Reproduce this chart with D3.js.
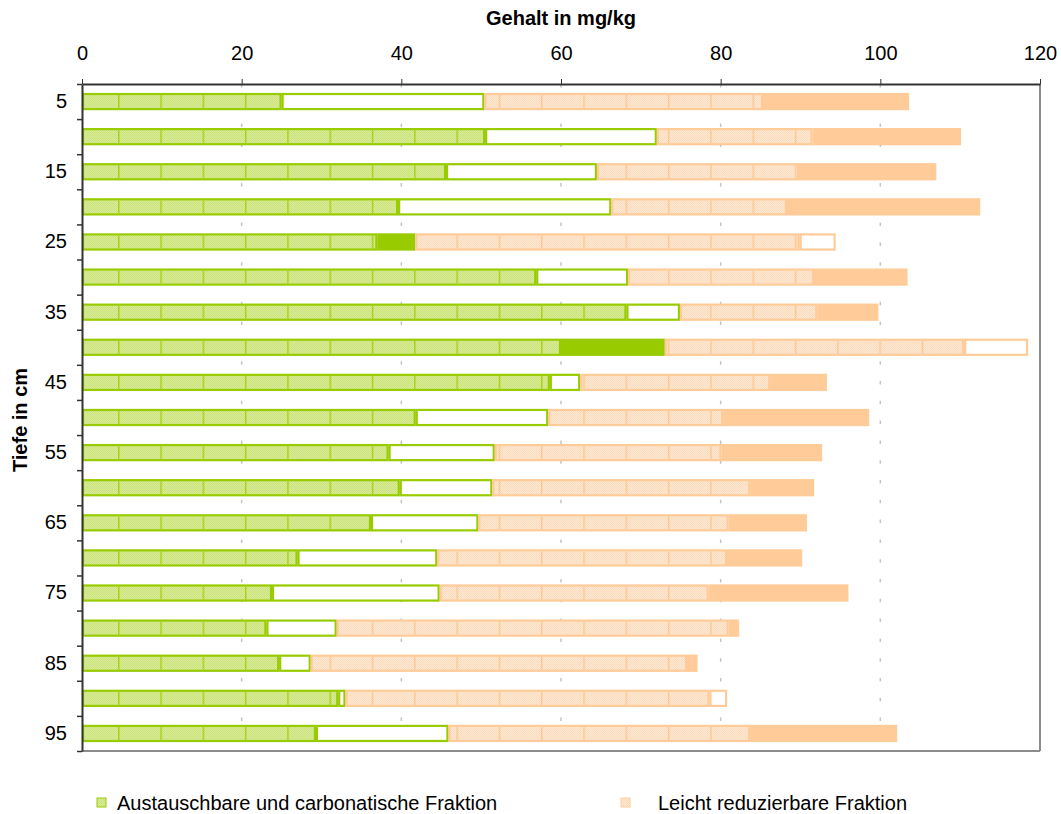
<!DOCTYPE html>
<html>
<head>
<meta charset="utf-8">
<script src="https://cdn.jsdelivr.net/npm/d3@7"></script>
<style>
  body { margin: 0; background: #fff; }
  svg { font-family: "Liberation Sans", Arial, sans-serif; }
</style>
</head>
<body>
<script>
// Tiefe (cm) und Fraktionen (mg/kg), Werte als Abschnittslängen
var depths = [5, 10, 15, 20, 25, 30, 35, 40, 45, 50, 55, 60, 65, 70, 75, 80, 85, 90, 95];
var austausch   = [25.0, 50.5, 45.6, 39.6, 37.0, 56.9, 68.2, 60.0, 58.6, 41.8, 38.4, 39.8, 36.2, 27.0, 23.8, 23.1, 24.7, 32.1, 29.3];
var greenOpen   = [25.4, 21.5, 18.9, 26.7, 0, 11.5, 6.7, 0, 3.8, 16.6, 13.3, 11.6, 13.45, 17.5, 21.0, 8.8, 3.95, 0.9, 16.6];
var greenSolid  = [0, 0, 0, 0, 4.75, 0, 0, 13.0, 0, 0, 0, 0, 0, 0, 0, 0, 0, 0, 0];
var leicht      = [34.9, 19.5, 25.3, 22.0, 48.15, 23.3, 17.2, 37.5, 23.8, 21.9, 28.4, 32.3, 31.35, 36.3, 33.7, 49.1, 47.15, 45.6, 37.8];
var orangeSolid = [18.3, 18.6, 17.2, 24.2, 0, 11.7, 7.65, 0, 7.1, 18.3, 12.6, 8.0, 9.8, 9.4, 17.5, 1.3, 1.3, 0, 18.4];
var orangeOpen  = [0, 0, 0, 0, 4.5, 0, 0, 8.0, 0, 0, 0, 0, 0, 0, 0, 0, 0, 2.2, 0];
var xTicks = [0, 20, 40, 60, 80, 100, 120];
var legendItems = ["Austauschbare und carbonatische Fraktion", "Leicht reduzierbare Fraktion"];

var width = 1061, height = 814;
var margin = ({ top: 84, right: 21, bottom: 63, left: 82 });

var keys = ["austausch", "greenOpen", "greenSolid", "leicht", "orangeSolid", "orangeOpen"];
var rows = depths.map((d, i) => ({
    depth: d,
    austausch: austausch[i], greenOpen: greenOpen[i], greenSolid: greenSolid[i],
    leicht: leicht[i], orangeSolid: orangeSolid[i], orangeOpen: orangeOpen[i]
}));

var style = {
    austausch:   { fill: "url(#hatchGreen)", stroke: "#99cc00", lines: "url(#linesGreen)" },
    greenOpen:   { fill: "#ffffff", stroke: "#99cc00" },
    greenSolid:  { fill: "#99cc00", stroke: "#99cc00" },
    leicht:      { fill: "url(#hatchOrange)", stroke: "#ffcc99", lines: "url(#linesOrange)" },
    orangeSolid: { fill: "#ffcc99", stroke: "#ffcc99" },
    orangeOpen:  { fill: "#ffffff", stroke: "#ffcc99" }
};

var svg = d3.select("body").append("svg")
    .attr("width", width)
    .attr("height", height);

var defs = svg.append("defs");
function checker(id, base, dot) {
    var p = defs.append("pattern").attr("id", id)
        .attr("patternUnits", "userSpaceOnUse").attr("width", 2).attr("height", 2);
    p.append("rect").attr("width", 2).attr("height", 2).attr("fill", base);
    p.append("rect").attr("width", 1).attr("height", 1).attr("fill", dot);
    p.append("rect").attr("x", 1).attr("y", 1).attr("width", 1).attr("height", 1).attr("fill", dot);
}
checker("hatchGreen", "#d8ec95", "#cbe27e");
checker("hatchOrange", "#fee8d2", "#fcdcbf");
function vlines(id, color) {
    var p = defs.append("pattern").attr("id", id)
        .attr("patternUnits", "userSpaceOnUse")
        .attr("x", 118).attr("width", 42.3).attr("height", 10);
    p.append("rect").attr("x", 0).attr("width", 1.5).attr("height", 10).attr("fill", color);
}
vlines("linesGreen", "#a6d21a");
vlines("linesOrange", "#fcc894");

var x = d3.scaleLinear()
    .domain([0, 120])
    .range([margin.left, width - margin.right]);

var yRow = d3.scaleBand()
    .domain(depths)
    .range([margin.top, height - margin.bottom]);

var yBar = d3.scaleBand()
    .domain(depths)
    .range([margin.top, height - margin.bottom])
    .paddingInner(0.57)
    .paddingOuter(0.285);

var yEdge = d3.scaleLinear()
    .domain([0, depths.length])
    .range([margin.top, height - margin.bottom]);

// gridlines
svg.append("g")
    .selectAll("line")
    .data(xTicks.slice(1, -1))
    .join("line")
    .attr("x1", d => x(d)).attr("x2", d => x(d))
    .attr("y1", margin.top).attr("y2", height - margin.bottom)
    .attr("stroke", "#c4c4c4")
    .attr("stroke-width", 1.5)
    .attr("stroke-dasharray", "3.5,16.3");

// bars
var series = d3.stack().keys(keys)(rows);
var bars = svg.append("g");
series.forEach(s => {
    var st = style[s.key];
    var segs = s.filter(d => d[1] - d[0] > 0);
    var g = bars.append("g");
    g.selectAll("rect.seg")
        .data(segs)
        .join("rect")
        .attr("class", "seg")
        .attr("x", d => x(d[0]) + 1)
        .attr("y", d => yBar(d.data.depth))
        .attr("width", d => Math.max(0.5, x(d[1]) - x(d[0]) - 2))
        .attr("height", yBar.bandwidth())
        .attr("fill", st.fill)
        .attr("stroke", st.stroke)
        .attr("stroke-width", 2.2);
    if (st.lines) {
        g.selectAll("rect.tex")
            .data(segs)
            .join("rect")
            .attr("class", "tex")
            .attr("x", d => x(d[0]) + 2.5)
            .attr("y", d => yBar(d.data.depth) + 1)
            .attr("width", d => Math.max(0, x(d[1]) - x(d[0]) - 5))
            .attr("height", yBar.bandwidth() - 2)
            .attr("fill", st.lines);
    }
});

// frame: right and bottom
svg.append("line")
    .attr("x1", x(120)).attr("x2", x(120))
    .attr("y1", margin.top).attr("y2", height - margin.bottom)
    .attr("stroke", "#8c8c8c").attr("stroke-width", 2);
svg.append("line")
    .attr("x1", margin.left).attr("x2", x(120))
    .attr("y1", height - margin.bottom).attr("y2", height - margin.bottom)
    .attr("stroke", "#8c8c8c").attr("stroke-width", 2);

// top axis
var xAxis = g => g
    .attr("transform", `translate(0,${margin.top})`)
    .call(d3.axisTop(x).tickValues(xTicks).tickSize(5).tickSizeOuter(0).tickPadding(19))
    .call(g => g.select(".domain").attr("stroke", "#333").attr("stroke-width", 2))
    .call(g => g.selectAll(".tick line").attr("stroke", "#333"))
    .call(g => g.selectAll("text").attr("font-size", 20).attr("fill", "#000"));
svg.append("g").call(xAxis);

// left axis: labels on every second row, ticks on row borders
svg.append("g")
    .attr("transform", `translate(${margin.left},0)`)
    .call(d3.axisLeft(yEdge).tickValues(d3.range(depths.length + 1)).tickFormat("").tickSize(5).tickSizeOuter(0))
    .call(g => g.select(".domain").attr("stroke", "#333").attr("stroke-width", 2))
    .call(g => g.selectAll(".tick line").attr("stroke", "#333").attr("stroke-width", 1.5));

svg.append("g")
    .attr("transform", `translate(${margin.left},0)`)
    .call(d3.axisLeft(yRow).tickSize(0).tickPadding(15).tickFormat(d => d % 10 === 5 ? d : ""))
    .call(g => g.select(".domain").remove())
    .call(g => g.selectAll("text").attr("font-size", 20).attr("fill", "#000"));

// titles
svg.append("text")
    .attr("x", 561).attr("y", 25)
    .attr("text-anchor", "middle")
    .attr("font-size", 20).attr("font-weight", "bold")
    .text("Gehalt in mg/kg");

svg.append("text")
    .attr("transform", "translate(27,420) rotate(-90)")
    .attr("text-anchor", "middle")
    .attr("font-size", 20).attr("font-weight", "bold")
    .text("Tiefe in cm");

// legend
var legend = svg.append("g");
var legendPos = [{ m: 97, t: 117 }, { m: 621, t: 658 }];
var legendFill = ["url(#hatchGreen)", "url(#hatchOrange)"];
legendItems.forEach((name, i) => {
    legend.append("rect")
        .attr("x", legendPos[i].m).attr("y", 798)
        .attr("width", 9).attr("height", 9)
        .attr("fill", legendFill[i])
        .attr("stroke", i === 0 ? "#99cc00" : "#ffcc99").attr("stroke-width", 1);
    legend.append("text")
        .attr("x", legendPos[i].t).attr("y", 810)
        .attr("font-size", 20)
        .text(name);
});
</script>
</body>
</html>
